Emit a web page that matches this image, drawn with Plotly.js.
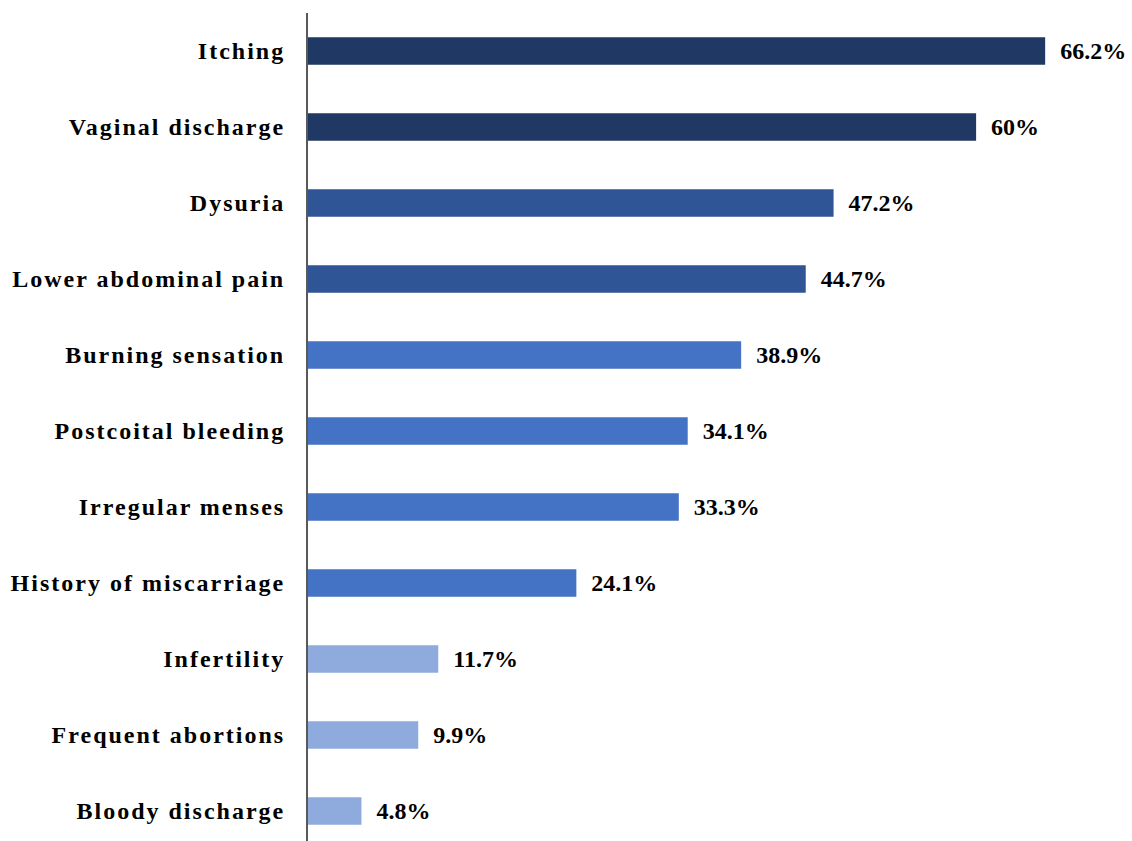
<!DOCTYPE html>
<html>
<head>
<meta charset="utf-8">
<script src="https://cdn.plot.ly/plotly-3.0.1.min.js"></script>
<style>
html,body{margin:0;padding:0;background:#fff;}
#chart{width:1132px;height:841px;}
#chart .ytick text{letter-spacing:2px;}
</style>
</head>
<body>
<div id="chart"></div>
<script>
// Data (bottom to top)
const categories = ["Bloody discharge","Frequent abortions","Infertility","History of miscarriage","Irregular menses","Postcoital bleeding","Burning sensation","Lower abdominal pain","Dysuria","Vaginal discharge","Itching"];
const values = [4.8, 9.9, 11.7, 24.1, 33.3, 34.1, 38.9, 44.7, 47.2, 60, 66.2];
const barColors = ["#8FAADC","#8FAADC","#8FAADC","#4472C4","#4472C4","#4472C4","#4472C4","#2F5597","#2F5597","#203864","#203864"];

const trace = {
  type: "bar",
  orientation: "h",
  y: categories,
  x: values,
  marker: {color: barColors},
  text: values.map(v => v + "%"),
  texttemplate: "  %{text}",
  textposition: "outside",
  cliponaxis: false,
  textfont: {family: "Liberation Serif", size: 24, color: "#000", weight: "bold"},
  hoverinfo: "none"
};

const layout = {
  width: 1132, height: 841,
  margin: {l: 308, r: 0, t: 13, b: 0},
  paper_bgcolor: "#fff", plot_bgcolor: "#fff",
  bargap: 0.64,
  showlegend: false,
  font: {family: "Liberation Serif", size: 24, color: "#000"},
  xaxis: {range: [0, 74.0], visible: false, fixedrange: true},
  yaxis: {
    type: "category",
    categoryorder: "array", categoryarray: categories,
    range: [-0.395, 10.5],
    showline: true, linecolor: "#595959", linewidth: 2,
    showgrid: false, zeroline: false, ticks: "",
    ticklabelstandoff: 16,
    tickfont: {family: "Liberation Serif", size: 24, color: "#000", weight: "bold"}
  }
};
Plotly.newPlot("chart", [trace], layout, {staticPlot: true});
</script>
</body>
</html>
